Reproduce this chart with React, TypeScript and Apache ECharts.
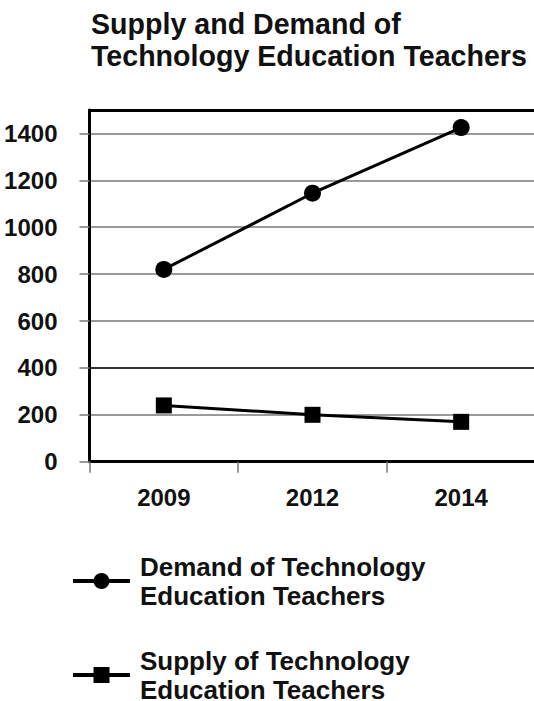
import React, { useEffect, useRef } from "react";
import * as echarts from "echarts";

const years = ["2009", "2012", "2014"];
const demand = [820, 1145, 1425];
const supply = [240, 200, 170];
const yTicks = [0, 200, 400, 600, 800, 1000, 1200, 1400];
const demandName = "Demand of Technology\nEducation Teachers";
const supplyName = "Supply of Technology\nEducation Teachers";
const titleText = "Supply and Demand of\nTechnology Education Teachers";

const FONT = "'Liberation Sans', Arial, Helvetica, sans-serif";

const legendBase = {
  orient: "vertical",
  left: 71,
  padding: 0,
  itemWidth: 57,
  itemHeight: 20,
  lineStyle: { width: 4, color: "#000" },
  itemStyle: { color: "#000" },
  textStyle: {
    fontFamily: FONT,
    fontSize: 26,
    fontWeight: "bold",
    lineHeight: 29,
    color: "#111",
    padding: [0, 0, 0, 5],
  },
};

export default function App() {
  const ref = useRef<HTMLDivElement>(null);
  useEffect(() => {
    if (!ref.current) return;
    const chart = echarts.init(ref.current, null, { renderer: "svg" });
    chart.setOption({
      animation: false,
      backgroundColor: "#ffffff",
      textStyle: { fontFamily: FONT },
      title: {
        text: titleText,
        left: 91,
        top: 8,
        padding: 0,
        textStyle: {
          fontFamily: FONT,
          fontSize: 28.6,
          fontWeight: "bold",
          lineHeight: 32,
          color: "#111",
        },
      },
      legend: [
        { ...legendBase, top: 552, data: [demandName] },
        { ...legendBase, top: 646, data: [supplyName] },
      ],
      grid: {
        left: 89.5,
        top: 110,
        width: 446,
        bottom: 239.3,
        containLabel: false,
        outerBoundsMode: "none",
      },
      xAxis: [
        {
          type: "category",
          data: years,
          boundaryGap: true,
          axisLine: { show: true, onZero: false, lineStyle: { color: "#000", width: 3 } },
          axisTick: { show: true, length: 11, lineStyle: { color: "#777", width: 1.5 } },
          axisLabel: { margin: 24, fontFamily: FONT, fontSize: 24, fontWeight: "bold", color: "#111" },
          splitLine: { show: false },
        },
        {
          type: "category",
          data: years,
          position: "top",
          boundaryGap: true,
          axisLine: { show: true, onZero: false, lineStyle: { color: "#000", width: 3 } },
          axisTick: { show: false },
          axisLabel: { show: false },
          splitLine: { show: false },
        },
      ],
      yAxis: {
        type: "value",
        min: 0,
        max: 1500,
        interval: 200,
        axisLine: { show: true, lineStyle: { color: "#000", width: 3 } },
        axisTick: { show: true, length: 10, customValues: yTicks, lineStyle: { color: "#777", width: 1.5 } },
        axisLabel: {
          customValues: yTicks,
          margin: 32,
          fontFamily: FONT,
          fontSize: 24,
          fontWeight: "bold",
          color: "#111",
          formatter: (v: number) => String(v),
        },
        splitLine: {
          show: true,
          lineStyle: {
            width: 2,
            color: ["#999", "#999", "#333", "#999", "#999", "#999", "#999", "#999", "#000"],
          },
        },
      },
      series: [
        {
          name: demandName,
          type: "line",
          data: demand,
          symbol: "circle",
          symbolSize: 17,
          lineStyle: { color: "#000", width: 3 },
          itemStyle: { color: "#000" },
        },
        {
          name: supplyName,
          type: "line",
          data: supply,
          symbol: "rect",
          symbolSize: 16,
          lineStyle: { color: "#000", width: 3 },
          itemStyle: { color: "#000" },
        },
      ],
    });
    return () => chart.dispose();
  }, []);
  return (
    <div
      ref={ref}
      style={{ position: "fixed", left: 0, top: 0, width: 534, height: 701, background: "#fff" }}
    />
  );
}
